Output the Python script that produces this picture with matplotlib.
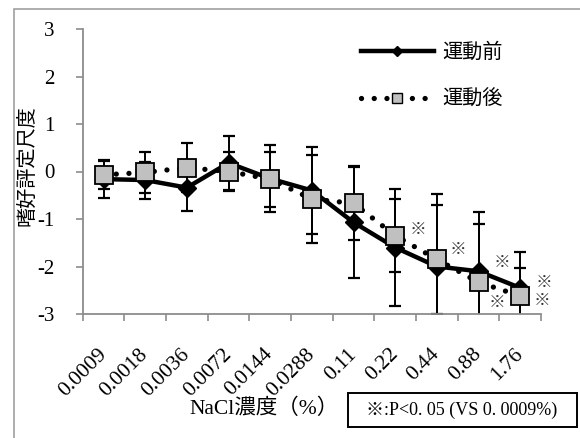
import matplotlib
matplotlib.use("Agg")
import matplotlib.pyplot as plt
from matplotlib.lines import Line2D
from matplotlib.patches import Rectangle
from matplotlib.transforms import ScaledTranslation
import numpy as np

plt.rcParams['font.family'] = ['Liberation Serif', 'DejaVu Serif', 'Noto Sans CJK JP']
plt.rcParams['axes.unicode_minus'] = False

categories = ['0.0009', '0.0018', '0.0036', '0.0072', '0.0144', '0.0288',
              '0.11', '0.22', '0.44', '0.88', '1.76']
before = [-0.16, -0.18, -0.34, 0.18, -0.15, -0.40, -1.07, -1.60, -2.00, -2.10, -2.45]
before_err = [0.40, 0.39, 0.49, 0.57, 0.70, 0.92, 1.17, 1.23, 1.53, 1.25, 0.75]
after = [-0.07, -0.02, 0.08, 0.00, -0.16, -0.58, -0.67, -1.35, -1.85, -2.33, -2.62]
after_err = [0.30, 0.44, 0.52, 0.42, 0.58, 0.93, 0.78, 0.77, 1.15, 1.23, 0.58]
yticks = [-3, -2, -1, 0, 1, 2, 3]
series_names = ['運動前', '運動後']
ylabel = '嗜好評定尺度'
xlabel = 'NaCl濃度（%）'
note = '※:P<0. 05 (VS 0. 0009%)'
# significance marks: (category index, series, offset in points)
sig_marks = [(7, 'after', (16.6, 4.7)), (8, 'after', (15, 7.4)),
             (9, 'before', (16.7, 6.3)), (9, 'after', (13.1, -14.6)),
             (10, 'before', (17.1, 3.9)), (10, 'after', (15.9, -3.5))]

W, H = 580, 438
fig = plt.figure(figsize=(W / 100, H / 100), dpi=100)
ax = fig.add_axes([82.7 / W, 1 - 314 / H, (541 - 82.7) / W, (314 - 29) / H])

x = np.arange(len(categories))
gray_axis = '#8c8c8c'

ax.errorbar(x, before, yerr=before_err, fmt='none', ecolor='black',
            elinewidth=1.4, capsize=4.5, capthick=1.6, zorder=2)
ax.errorbar(x, after, yerr=after_err, fmt='none', ecolor='black',
            elinewidth=1.4, capsize=4.5, capthick=1.6, zorder=2)
ax.plot(x, before, color='black', lw=3.2, marker='D', markersize=9,
        markerfacecolor='black', markeredgecolor='black', zorder=3)
ax.plot(x, after, color='black', lw=3.8, linestyle=(0, (0.01, 2.4)),
        dash_capstyle='round', zorder=4)
ax.plot(x, after, linestyle='none', marker='s', markersize=13.3,
        markerfacecolor='#c0c0c0', markeredgecolor='black',
        markeredgewidth=1.3, zorder=5)

vals = {'before': before, 'after': after}
for idx, s, off in sig_marks:
    ax.annotate('※', xy=(x[idx], vals[s][idx]), xytext=off, textcoords='offset points',
                ha='center', va='center', fontsize=12, color='#333333',
                family=['Noto Sans CJK JP'], annotation_clip=False, zorder=6)

ax.set_xlim(-0.5, len(categories) - 0.5)
ax.set_ylim(-3, 3)
ax.set_yticks(yticks)
ax.set_yticklabels([str(v) for v in yticks], fontsize=15)
ax.set_xticks(x)
ax.set_xticklabels(categories, fontsize=15.5, rotation=45, ha='right',
                   va='center', rotation_mode='anchor')
shift = ScaledTranslation(-5 / 100, 0, fig.dpi_scale_trans)
for lab in ax.get_xticklabels():
    lab.set_transform(lab.get_transform() + shift)
ax.set_xticks(np.arange(len(categories) + 1) - 0.5, minor=True)
ax.tick_params(axis='x', which='major', length=0, pad=27)
ax.tick_params(axis='x', which='minor', length=5, width=1.2, color=gray_axis, direction='out')
ax.tick_params(axis='y', length=5, width=1.2, color=gray_axis, direction='out', pad=15)
for sp in ['top', 'right']:
    ax.spines[sp].set_visible(False)
for sp in ['left', 'bottom']:
    ax.spines[sp].set_color(gray_axis)
    ax.spines[sp].set_linewidth(1.3)

fig.text(27 / W, 1 - 166 / H, ylabel, rotation=90, ha='center', va='center',
         fontsize=14.5, family=['Noto Sans CJK JP'])
fig.text(264 / W, 1 - 409 / H, xlabel, ha='center', va='center', fontsize=15.5)

# note box
fig.patches.append(Rectangle((347.5 / W, 1 - 426.5 / H), (576.5 - 347.5) / W, 34 / H,
                             transform=fig.transFigure, fill=False, edgecolor='black',
                             linewidth=1.4))
fig.text(461.5 / W, 1 - 410 / H, note, ha='center', va='center', fontsize=13)

# outer chart frame
fig.patches.append(Rectangle((14 / W, -0.02), 1.0, 1 - 9 / H + 0.02,
                             transform=fig.transFigure, fill=False,
                             edgecolor='#a0a0a0', linewidth=1.2, clip_on=False))

handles = [Line2D([], [], color='black', lw=3.2, marker='D', markersize=5.5),
           Line2D([], [], color='black', lw=3.8, linestyle=(0, (0.01, 2.4)),
                  dash_capstyle='round', marker='s', markersize=7.5,
                  markerfacecolor='#c0c0c0', markeredgecolor='black', markeredgewidth=1.0)]
fig.legend(handles, series_names, loc='upper left',
           bbox_to_anchor=(361 / W, 1 - 42 / H), frameon=False,
           handlelength=3.6, handletextpad=0.45, labelspacing=1.3, borderpad=0,
           borderaxespad=0, numpoints=1, prop={'family': ['Noto Sans CJK JP'], 'size': 14.5})

fig.savefig('out.png', dpi=100)
